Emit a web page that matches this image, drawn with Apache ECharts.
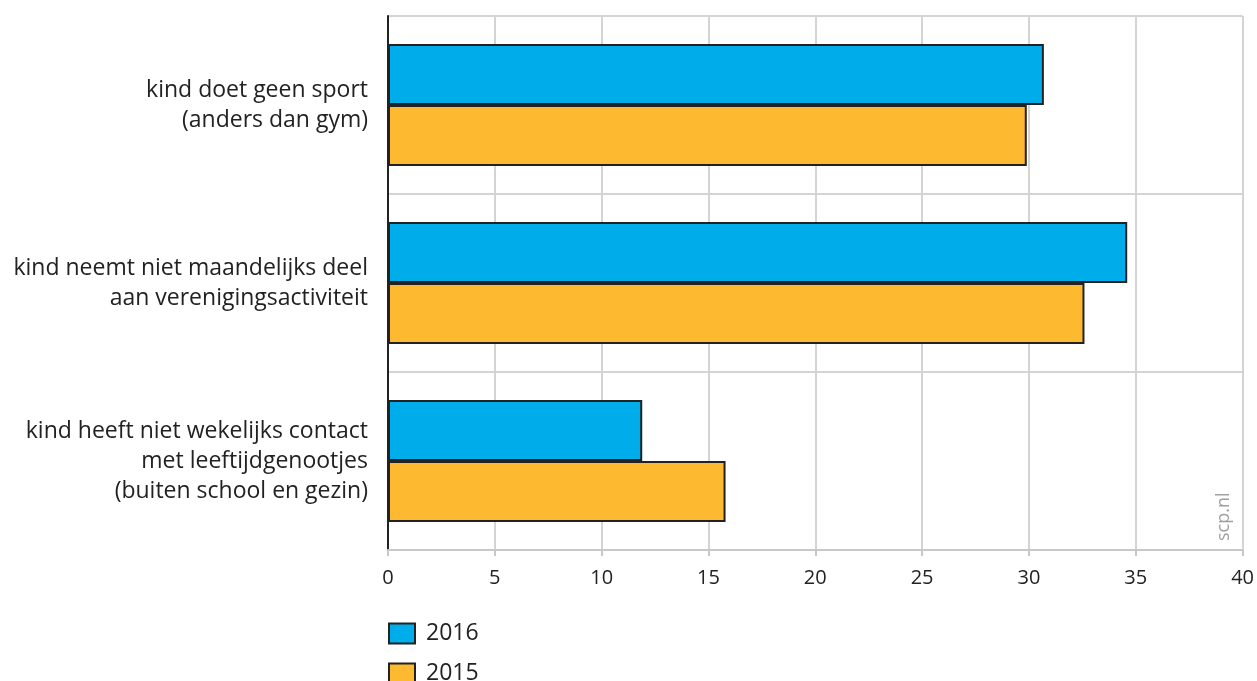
<!DOCTYPE html>
<html><head><meta charset="utf-8">
<script src="https://cdn.jsdelivr.net/npm/echarts@6/dist/echarts.min.js"></script>
<style>html,body{margin:0;padding:0;background:#fff}#c{width:1257px;height:681px}</style>
</head><body><div id="c"></div>
<script>
const categories = [
  "kind doet geen sport\n(anders dan gym)",
  "kind neemt niet maandelijks deel\naan verenigingsactiviteit",
  "kind heeft niet wekelijks contact\nmet leeftijdgenootjes\n(buiten school en gezin)"
];
const values2016 = [30.7, 34.6, 11.9];
const values2015 = [29.9, 32.6, 15.8];
const xTicks = [0, 5, 10, 15, 20, 25, 30, 35, 40];

const chart = echarts.init(document.getElementById('c'));
const font = '"Open Sans", "Noto Sans", sans-serif';
const legendBase = {
  orient: 'vertical', left: 388, padding: 0,
  itemWidth: 26, itemHeight: 20, icon: 'rect',
  textStyle: { fontSize: 23, color: '#222', fontFamily: font, padding: [0, 0, 0, 6] }
};
chart.setOption({
  animation: false,
  textStyle: { fontFamily: font },
  grid: { left: 388, right: 14, top: 16, bottom: 131 },
  legend: [
    Object.assign({}, legendBase, { top: 622, data: ['2016'] }),
    Object.assign({}, legendBase, { top: 662, data: ['2015'] })
  ],
  xAxis: {
    type: 'value', min: 0, max: 40, interval: 5,
    axisLine: { show: true, lineStyle: { color: '#c8c8c8', width: 2 } },
    axisTick: { show: true, length: 6, lineStyle: { color: '#c8c8c8', width: 2 } },
    axisLabel: { fontSize: 20, color: '#222', margin: 18, fontFamily: font,
      formatter: v => xTicks.includes(v) ? String(v) : '' },
    splitLine: { show: true, lineStyle: { color: '#d4d4d4', width: 2 } }
  },
  yAxis: {
    type: 'category', data: categories, inverse: true,
    axisLine: { show: true, lineStyle: { color: '#222', width: 2 } },
    axisTick: { show: false },
    axisLabel: { fontSize: 23, color: '#222', margin: 20, lineHeight: 30, align: 'right', fontFamily: font },
    splitLine: { show: true, lineStyle: { color: '#d4d4d4', width: 2 } }
  },
  series: [
    { name: '2016', type: 'bar', data: values2016, barWidth: 61, barGap: '0%',
      itemStyle: { color: '#00adeb', borderColor: '#222', borderWidth: 2 } },
    { name: '2015', type: 'bar', data: values2015, barWidth: 61, barGap: '0%',
      itemStyle: { color: '#fdb92f', borderColor: '#222', borderWidth: 2 } }
  ],
  graphic: [{
    type: 'text', x: 1215, y: 541, rotation: Math.PI / 2,
    style: { text: 'scp.nl', fontSize: 18, fill: '#a0a0a0', fontFamily: font }
  }]
});
</script></body></html>
